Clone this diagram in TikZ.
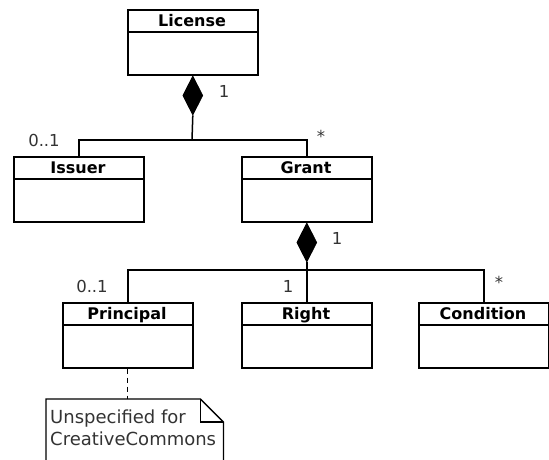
\documentclass[tikz,border=0pt]{standalone}
\usepackage{fontspec}
\setmainfont{DejaVu Sans}
\usetikzlibrary{shapes.geometric,calc}
\begin{document}
\begin{tikzpicture}[x=1pt,y=-1pt,
  classbox/.style={draw, line width=1.6pt, minimum width=130pt, minimum height=65pt, inner sep=0pt, anchor=north west},
  title/.style={font=\fontsize{16}{18}\selectfont\bfseries, anchor=base, inner sep=0pt},
  mult/.style={font=\fontsize{16.5}{18}\selectfont, text=black!80, inner sep=0pt},
  comp/.style={diamond, fill=black, draw=black, line width=0.8pt, minimum width=20pt, minimum height=39pt, inner sep=0pt, anchor=north},
  assoc/.style={line width=1.5pt},
  notetext/.style={font=\fontsize{18}{22}\selectfont, text=black!80, inner sep=0pt, anchor=base west},
  noteline/.style={line width=1.3pt},
]
\clip (0,0) rectangle (549,459);
% classes
\node[classbox] (license) at (127,9) {};
\node[title] (licenseT) at (192,26) {License};
\draw[assoc] ($(license.north west)+(0,23)$) -- ($(license.north east)+(0,23)$);

\node[classbox] (issuer) at (13,156) {};
\node[title] (issuerT) at (78,173) {Issuer};
\draw[assoc] ($(issuer.north west)+(0,23)$) -- ($(issuer.north east)+(0,23)$);

\node[classbox] (grant) at (241,156) {};
\node[title] (grantT) at (306,173) {Grant};
\draw[assoc] ($(grant.north west)+(0,23)$) -- ($(grant.north east)+(0,23)$);

\node[classbox] (principal) at (62,302) {};
\node[title] (principalT) at (127,319) {Principal};
\draw[assoc] ($(principal.north west)+(0,23)$) -- ($(principal.north east)+(0,23)$);

\node[classbox] (right) at (241,302) {};
\node[title] (rightT) at (306,319) {Right};
\draw[assoc] ($(right.north west)+(0,23)$) -- ($(right.north east)+(0,23)$);

\node[classbox] (condition) at (418,302) {};
\node[title] (conditionT) at (483,319) {Condition};
\draw[assoc] ($(condition.north west)+(0,23)$) -- ($(condition.north east)+(0,23)$);

% compositions
\node[comp] (d1) at (license.south) {};
\coordinate (j1) at (192,140);
\draw[assoc] (d1.south) -- (j1);
\draw[assoc] (issuer.north) |- (j1) -| (grant.north);

\node[comp] (d2) at (grant.south) {};
\coordinate (j2) at (306,270);
\draw[assoc] (d2.south) -- (right.north);
\draw[assoc] (principal.north) |- (j2) -| (condition.north);

% multiplicities
\node[mult] (m1) at (224,91) {1};
\node[mult] (m2) at (44,140) {0..1};
\node[mult] (m3) at (321,136) {*};
\node[mult] (m4) at (337,238) {1};
\node[mult] (m5) at (92,286) {0..1};
\node[mult] (m6) at (288,286) {1};
\node[mult] (m7) at (499,282) {*};

% note
\node[anchor=north west, minimum width=177pt, minimum height=80pt, inner sep=0pt] (note) at (46,399) {};
\draw[noteline] (note.south west) -- (note.north west) -- ($(note.north east)+(-23,0)$) -- ($(note.north east)+(0,23)$) -- (note.south east);
\draw[noteline] ($(note.north east)+(-23,0)$) |- ($(note.north east)+(0,23)$);
\node[notetext] (note1) at (50,423) {Unspecified for};
\node[notetext] (note2) at (50,445) {CreativeCommons};
\draw[noteline, dash pattern=on 5pt off 4pt] (principal.south) -- (principal.south |- note.north);
\end{tikzpicture}
\end{document}
